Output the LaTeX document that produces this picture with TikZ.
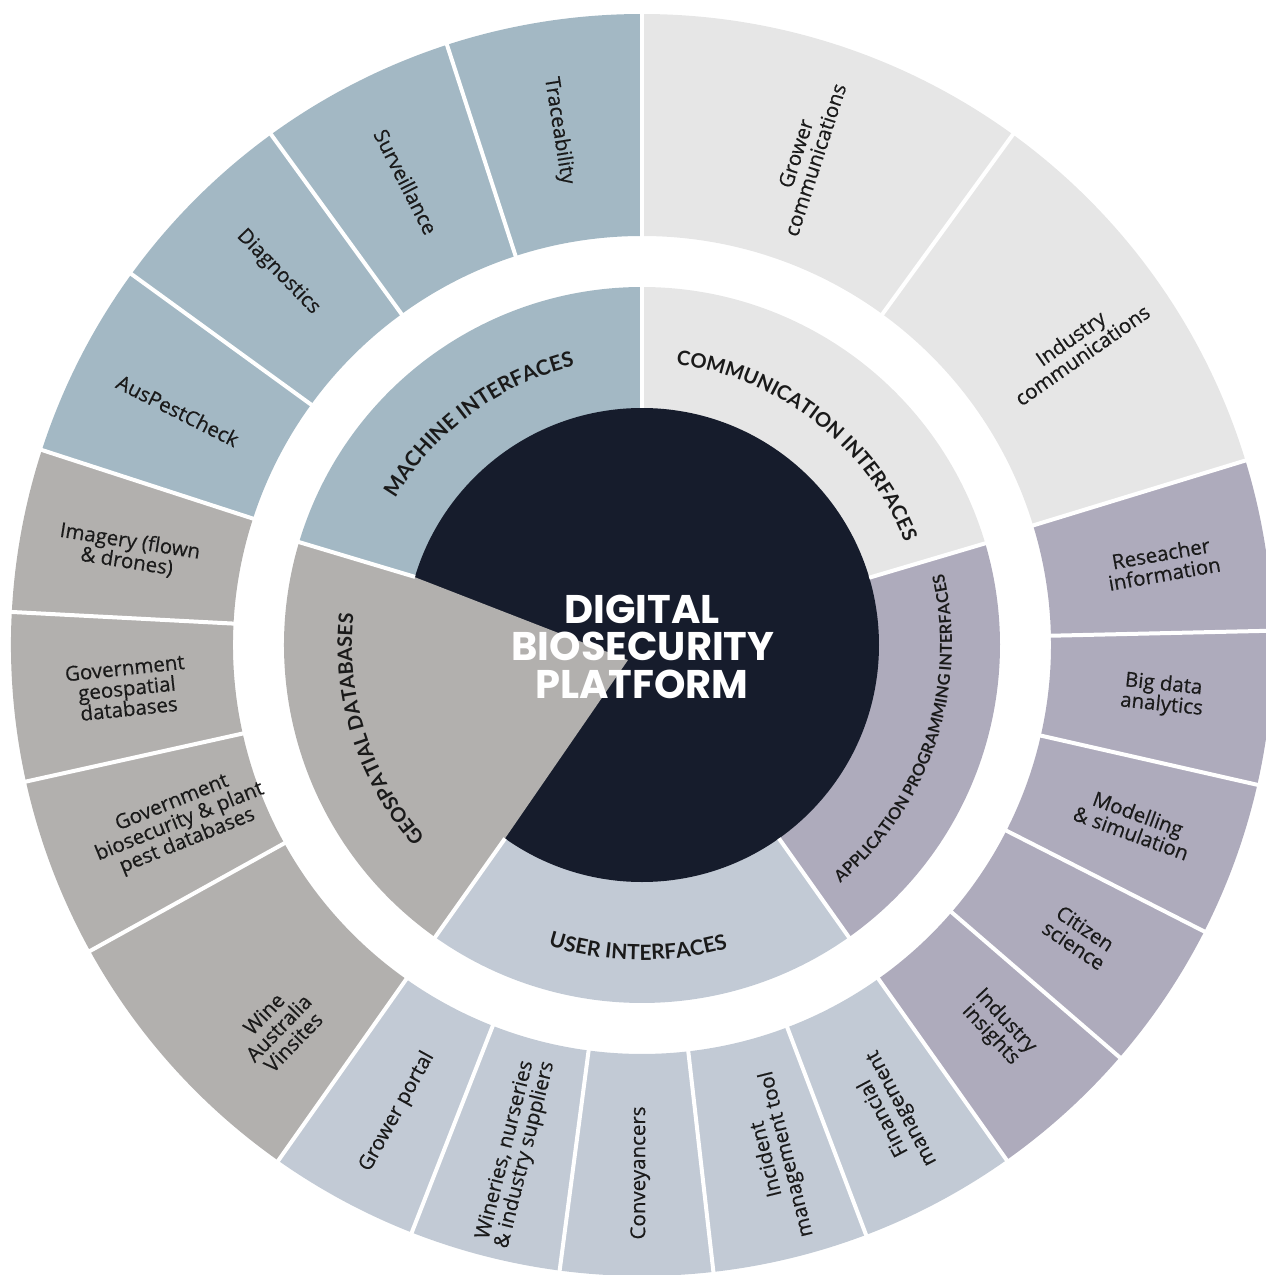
\documentclass[tikz,border=0pt]{standalone}
\usepackage{fontspec}
\newfontfamily\lblfont{Open Sans}[FakeBold=0.5]
\newfontfamily\popfont{Poppins}
\newfontfamily\midfont{Lato}
\usetikzlibrary{decorations.text}
\definecolor{mach}{HTML}{A3B8C4}
\definecolor{comm}{HTML}{E6E6E6}
\definecolor{api}{HTML}{AEABBC}
\definecolor{usr}{HTML}{C2CAD5}
\definecolor{geo}{HTML}{B2B0AE}
\definecolor{core}{HTML}{161C2C}
\definecolor{txt}{HTML}{1A1A1A}
\newcommand\wseg[5]{\fill[#1] (#2:#4pt) arc[start angle=#2, end angle=#3, radius=#4pt] -- (#3:#5pt) arc[start angle=#3, end angle=#2, radius=#5pt] -- cycle;}
\newcommand\wsep[3]{\draw[sepline] (#1:#2pt) -- (#1:#3pt);}
\newcommand\midtxt[5]{\path[decorate, decoration={text along path, text align=center, text={|\midfont\bfseries\fontsize{#5}{#5}\selectfont\color{txt}|#1}}] (#2:#4pt) arc[start angle=#2, end angle=#3, radius=#4pt];}
\begin{document}
\begin{tikzpicture}[x=1pt,y=1pt,
  sepline/.style={white, line width=4pt},
  lbl/.style={font=\lblfont\fontsize{20.5}{20.5}\selectfont, text=txt, align=center, inner sep=0pt},
  ctr/.style={font=\popfont\bfseries\fontsize{40}{40}\selectfont, text=white, inner sep=0pt, anchor=base}]
\useasboundingbox (-642,-630) rectangle (624,645);
\clip (-642,-630) rectangle (624,645);
% outer ring
\wseg{mach}{90}{162}{409}{631}
\wseg{geo}{162}{234.8}{409}{631}
\wseg{usr}{234.8}{305.3}{409}{631}
\wseg{api}{305.3}{377}{409}{631}
\wseg{comm}{17}{90}{409}{631}
% middle ring
\wseg{mach}{90}{163.3}{230}{358}
\wseg{geo}{163.3}{234.7}{230}{358}
\wseg{usr}{234.7}{305.3}{230}{358}
\wseg{api}{305.3}{376.5}{230}{358}
\wseg{comm}{16.5}{90}{230}{358}
% core
\fill[core] (0,0) circle[radius=237pt];
\fill[geo] (-14,-15) -- (163.3:241pt) arc[start angle=163.3, end angle=234.7, radius=241pt] -- cycle;
% separators outer
\foreach \a in {90,108,126,144,162,177,192.5,209,234.8,248.6,262.5,276.5,290.8,305.3,319.2,333,347.2,1.3,17,54}{\wsep{\a}{405}{640}}
% separators middle
\foreach \a in {90,163.3,234.7,305.3,16.5}{\wsep{\a}{237}{362}}
% centre
\node[ctr] (t1) at (0,22) {DIGITAL};
\node[ctr] (t2) at (1,-15) {BIOSECURITY};
\node[ctr] (t3) at (0,-53) {PLATFORM};
% middle labels
\midtxt{MACHINE INTERFACES}{161.4}{91.4}{287}{21}
\midtxt{COMMUNICATION INTERFACES}{92.2}{12.2}{282}{20}
\midtxt{APPLICATION PROGRAMMING INTERFACES}{-60.5}{23.5}{310}{16.5}
\midtxt{GEOSPATIAL DATABASES}{232.75}{162.75}{290}{20}
\midtxt{USER INTERFACES}{234.25}{304.25}{315}{21}
% outer labels
\node[lbl, rotate=-81] (trace) at (99.2:521pt) {Traceability};
\node[lbl, rotate=-63] (surv) at (117:520pt) {Surveillance};
\node[lbl, rotate=-45.7] (diag) at (134.3:521pt) {Diagnostics};
\node[lbl, rotate=-26.8] (apc) at (153.2:520pt) {AusPestCheck};
\node[lbl, rotate=72] (gcom) at (71.5:515pt) {Grower\\communications};
\node[lbl, rotate=35] (icom) at (34.5:527pt) {Industry\\communications};
\node[lbl, rotate=10] (res) at (8.9:527pt) {Reseacher\\information};
\node[lbl, rotate=-6] (big) at (-5.5:523pt) {Big data\\analytics};
\node[lbl, rotate=-20] (mod) at (-19.9:524pt) {Modelling\\\& simulation};
\node[lbl, rotate=-34] (cit) at (-33.7:526pt) {Citizen\\science};
\node[lbl, rotate=-47] (ins) at (-47.1:523pt) {Industry\\insights};
\node[lbl, rotate=118] (fin) at (298.2:531pt) {Financial\\management};
\node[lbl, rotate=104] (inc) at (284.8:529pt) {Incident\\management tool};
\node[lbl, rotate=90] (conv) at (269.8:528pt) {Conveyancers};
\node[lbl, rotate=76] (win) at (256:523pt) {Wineries, nurseries\\\& industry suppliers};
\node[lbl, rotate=61] (gp) at (242.3:527pt) {Grower portal};
\node[lbl, rotate=46] (wa) at (226.5:528pt) {Wine\\Australia\\Vinsites};
\node[lbl, rotate=22] (gb) at (201:495pt) {Government\\biosecurity \& plant\\pest databases};
\node[lbl, rotate=6] (gg) at (184.8:517pt) {Government\\geospatial\\databases};
\node[lbl, rotate=-9] (img) at (169.7:522pt) {Imagery (flown\\\& drones)};
\end{tikzpicture}
\end{document}
